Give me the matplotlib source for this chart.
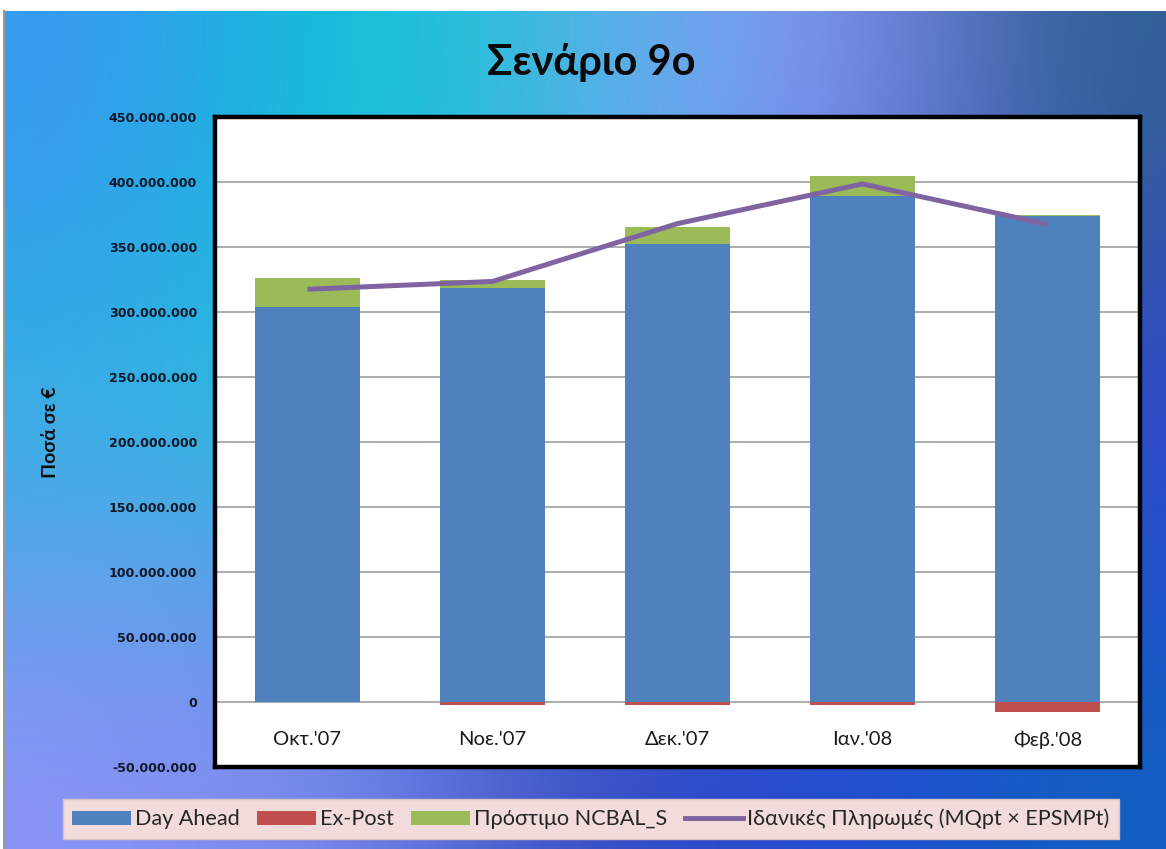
"""Σενάριο 9ο - stacked monthly payments with ideal-payment line."""

import matplotlib.pyplot as plt
import numpy as np
from matplotlib import font_manager
from matplotlib.colors import to_rgb
from matplotlib.ticker import FuncFormatter, MultipleLocator
from matplotlib.transforms import blended_transform_factory
from matplotlib.patches import Patch
from matplotlib.lines import Line2D

MONTHS = ["Οκτ.'07", "Νοε.'07", "Δεκ.'07", "Ιαν.'08", "Φεβ.'08"]
DAY_AHEAD = [303.5e6, 318.5e6, 352.0e6, 389.0e6, 373.5e6]
EX_POST = [-0.3e6, -2.5e6, -2.5e6, -2.5e6, -7.5e6]
PENALTY = [23.0e6, 6.0e6, 13.5e6, 15.5e6, 1.0e6]
IDEAL = [317.5e6, 323.5e6, 368.0e6, 398.5e6, 367.5e6]

SERIES_NAMES = ["Day Ahead", "Ex-Post", "Πρόστιμο NCBAL_S",
                "Ιδανικές Πληρωμές (MQpt × EPSMPt)"]

BLUE = "#4F81BD"
RED = "#C0504D"
GREEN = "#9BBB59"
PURPLE = "#8064A2"

# slide background colours (rows: top, middle, bottom)
BG_GRID = [
    ["#3A98F0", "#05C8D2", "#4FB6E2", "#9396FF", "#2E5F92"],
    ["#2FB6E0", "#20C2D8", "#5FA6F0", "#5470E0", "#3040D2"],
    ["#8C92F6", "#7C86EE", "#3346B8", "#2448D8", "#1060C0"],
]


def pick_family(candidates, weight="normal"):
    for fam in candidates:
        try:
            path = font_manager.findfont(
                font_manager.FontProperties(family=fam, weight=weight),
                fallback_to_default=False)
        except Exception:
            continue
        if weight == "bold" and "bold" not in path.lower():
            continue
        return fam
    return "DejaVu Sans"


def fmt_thousands(v, _pos):
    return f"{v:,.0f}".replace(",", ".")


def draw_background(fig):
    bg = fig.add_axes([0.0034, 0.0, 0.9966, 1 - 11 / 849], zorder=-10)
    grid = np.array([[to_rgb(c) for c in row] for row in BG_GRID])
    bg.imshow(grid, aspect="auto", interpolation="bicubic",
              extent=[0, 1, 0, 1], origin="upper")
    bg.set_xlim(0, 1)
    bg.set_ylim(0, 1)
    bg.axis("off")
    fig.add_artist(Line2D([0.0034, 0.0034], [0, 1 - 11 / 849],
                          color="#9A9A9A", lw=1.5, transform=fig.transFigure))


def main():
    title_font = pick_family(["Lato", "Open Sans", "Noto Sans", "Roboto"], "bold")
    text_font = pick_family(["Lato", "Open Sans", "Noto Sans", "Roboto"])

    fig = plt.figure(figsize=(11.66, 8.49), dpi=100)
    fig.patch.set_facecolor("white")
    draw_background(fig)

    ax = fig.add_axes([215 / 1166, 1 - 767 / 849, 925 / 1166, 650 / 849])
    ax.set_facecolor("white")
    x = np.arange(len(MONTHS))
    width = 0.565

    ax.bar(x, DAY_AHEAD, width, color=BLUE, zorder=2)
    ax.bar(x, EX_POST, width, color=RED, zorder=2)
    ax.bar(x, PENALTY, width, bottom=DAY_AHEAD, color=GREEN, zorder=2)
    ax.plot(x, IDEAL, color=PURPLE, lw=3.6, zorder=3, solid_capstyle="butt")

    ax.set_xlim(-0.5, len(MONTHS) - 0.5)
    ax.set_ylim(-50e6, 450e6)
    ax.yaxis.set_major_locator(MultipleLocator(50e6))
    ax.yaxis.set_major_formatter(FuncFormatter(fmt_thousands))
    ax.grid(axis="y", color="#A6A6A6", lw=1.3, zorder=0)
    ax.set_xticks([])
    ax.tick_params(axis="y", length=0, pad=13, labelsize=9.1,
                   labelcolor="#101828", labelfontfamily="DejaVu Sans")
    for lab in ax.get_yticklabels():
        lab.set_fontweight("bold")
    for spine in ax.spines.values():
        spine.set_linewidth(3.2)
        spine.set_color("black")

    trans = blended_transform_factory(ax.transData, ax.transAxes)
    for xi, m in zip(x, MONTHS):
        ax.text(xi, 0.042, m, transform=trans, ha="center", va="center",
                fontsize=14.5, family=[text_font, "DejaVu Sans"],
                color="#1A1A1A")

    fig.text(591 / 1166, 1 - 62 / 849, "Σενάριο 9ο", ha="center", va="center",
             fontsize=30, fontweight="bold", family=[title_font, "DejaVu Sans"],
             color="#0A0A0A")
    fig.text(50 / 1166, 1 - 432 / 849, "Ποσά σε €", rotation=90, ha="center",
             va="center", fontsize=14, fontweight="bold",
             family=[title_font, "DejaVu Sans"], color="#101010")

    handles = [
        Patch(facecolor=BLUE, label=SERIES_NAMES[0]),
        Patch(facecolor=RED, label=SERIES_NAMES[1]),
        Patch(facecolor=GREEN, label=SERIES_NAMES[2]),
        Line2D([0], [0], color=PURPLE, lw=3.5, label=SERIES_NAMES[3]),
    ]
    leg = fig.legend(handles=handles, loc="center", ncol=4,
                     bbox_to_anchor=(591 / 1166, 1 - 819 / 849),
                     prop={"family": [text_font, "DejaVu Sans"], "size": 15.6},
                     frameon=True, fancybox=False, handlelength=2.7,
                     handleheight=0.6, handletextpad=0.2, columnspacing=0.8,
                     borderpad=0.45)
    frame = leg.get_frame()
    frame.set_facecolor("#F2DCDB")
    frame.set_edgecolor("#D9C4C4")
    frame.set_alpha(1)
    for t in leg.get_texts():
        t.set_color("#262626")

    fig.savefig("out.png", dpi=100)
    plt.close(fig)


if __name__ == "__main__":
    main()
